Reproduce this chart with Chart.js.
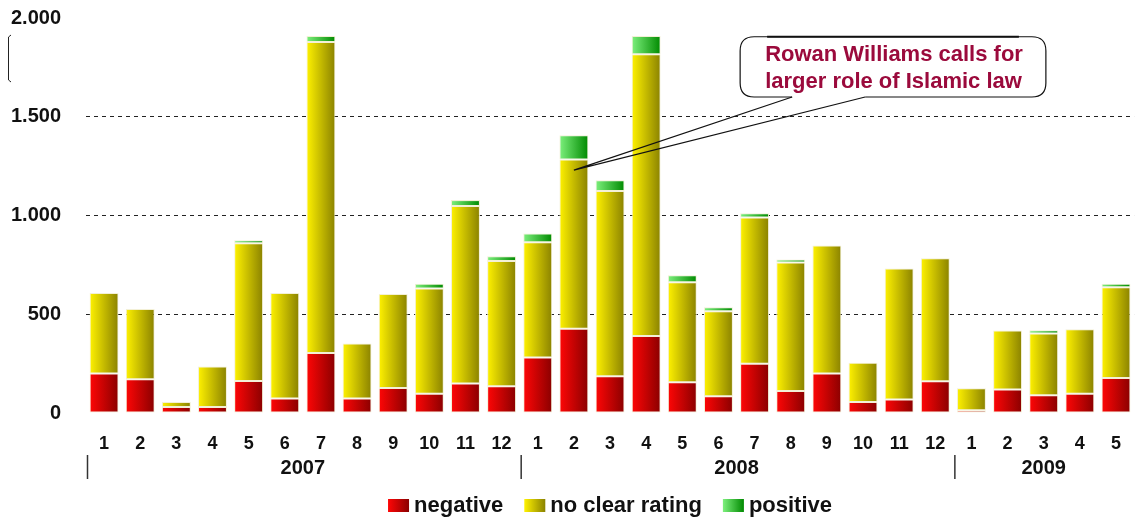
<!DOCTYPE html>
<html>
<head>
<meta charset="utf-8">
<script src="https://cdn.jsdelivr.net/npm/chart.js@4"></script>
<style>
    html, body { margin: 0; padding: 0; background: #fff; }
    #wrap { width: 1141px; height: 521px; }
</style>
</head>
<body>
<div id="wrap"><canvas id="chart"></canvas></div>
<script>
// months along the x axis, grouped by year
var monthLabels = ['1', '2', '3', '4', '5', '6', '7', '8', '9', '10', '11', '12',
    '1', '2', '3', '4', '5', '6', '7', '8', '9', '10', '11', '12',
    '1', '2', '3', '4', '5'];
var years = ['2007', '2008', '2009'];
var yearSpans = [12, 12, 5];

var negative = [200, 171, 30, 30, 162, 73, 304, 73, 127, 98, 149, 135,
    281, 426, 186, 390, 156, 85, 250, 112, 200, 56, 68, 161,
    14, 119, 90, 98, 177];
var noClearRating = [408, 356, 26, 205, 697, 535, 1575, 279, 475, 532, 899, 635,
    584, 858, 938, 1426, 506, 430, 740, 650, 648, 199, 664, 623,
    111, 299, 312, 326, 460];
var positive = [0, 0, 0, 0, 16, 0, 30, 0, 0, 24, 30, 24,
    44, 122, 55, 93, 36, 21, 21, 15, 0, 0, 0, 0,
    0, 0, 17, 0, 17];

var yTicks = [0, 500, 1000, 1500, 2000];

var annotationText = ['Rowan Williams calls for', 'larger role of Islamic law'];

var FONT = "'Liberation Sans', Arial, sans-serif";

// left = light, right = dark, like the shaded columns
var shades = {
    red: ['#ff0606', '#8a0000'],
    yellow: ['#fff200', '#8a8200'],
    green: ['#7df07d', '#008a00']
};

function barGradient(stops) {
    return function (context) {
        var chart = context.chart;
        var x = chart.scales.x;
        if (context.type !== 'data' || !x || !chart.chartArea) return stops[1];
        var center = x.getPixelForValue(context.dataIndex);
        var half = (x.width / monthLabels.length) * 0.4;
        var g = chart.ctx.createLinearGradient(center - half, 0, center + half, 0);
        g.addColorStop(0, stops[0]);
        g.addColorStop(1, stops[1]);
        return g;
    };
}

function formatThousands(v) {
    return String(v).replace(/\B(?=(\d{3})+(?!\d))/g, '.');
}

// year row, separators, legend, callout
var extras = {
    id: 'extras',
    afterDraw: function (chart) {
        var ctx = chart.ctx;
        var x = chart.scales.x;
        var y = chart.scales.y;
        var area = chart.chartArea;
        var catW = x.width / monthLabels.length;

        ctx.save();

        // little bracket mark at the left edge
        ctx.strokeStyle = '#222';
        ctx.lineWidth = 1;
        ctx.beginPath();
        ctx.moveTo(11, 35);
        ctx.lineTo(8.5, 37);
        ctx.lineTo(8.5, 80);
        ctx.lineTo(11, 82);
        ctx.stroke();

        // years
        ctx.font = 'bold 20px ' + FONT;
        ctx.fillStyle = '#111';
        ctx.textAlign = 'center';
        ctx.textBaseline = 'middle';
        var start = 0;
        years.forEach(function (yr, i) {
            var left = x.getPixelForValue(start) - catW / 2;
            var right = x.getPixelForValue(start + yearSpans[i] - 1) + catW / 2;
            ctx.strokeStyle = '#333';
            ctx.lineWidth = 1.5;
            ctx.beginPath();
            ctx.moveTo(left + 1.5, 455);
            ctx.lineTo(left + 1.5, 479);
            ctx.stroke();
            ctx.fillText(yr, (left + right) / 2, 468);
            start += yearSpans[i];
        });

        // legend
        var items = [
            { text: 'negative', c: shades.red },
            { text: 'no clear rating', c: shades.yellow },
            { text: 'positive', c: shades.green }
        ];
        ctx.font = 'bold 22px ' + FONT;
        ctx.textAlign = 'left';
        var total = 0;
        items.forEach(function (it, i) {
            it.w = ctx.measureText(it.text).width;
            total += 21 + 5 + it.w + (i < items.length - 1 ? 21 : 0);
        });
        var lx = (area.left + area.right) / 2 - total / 2;
        items.forEach(function (it) {
            var g = ctx.createLinearGradient(lx, 0, lx + 21, 0);
            g.addColorStop(0, it.c[0]);
            g.addColorStop(1, it.c[1]);
            ctx.fillStyle = g;
            ctx.fillRect(lx, 499, 21, 13);
            ctx.fillStyle = '#111';
            ctx.fillText(it.text, lx + 26, 506);
            lx += 21 + 5 + it.w + 21;
        });

        // callout box
        var bl = x.getPixelForValue(17.6);
        var br = x.getPixelForValue(26.06);
        var bt = y.getPixelForValue(1905);
        var bb = y.getPixelForValue(1600);
        var tipX = x.getPixelForValue(13);
        var tipY = y.getPixelForValue(1230);
        var p1 = bl + 52;
        var p2 = bl + 125;
        var r = 14;
        ctx.fillStyle = '#fff';
        ctx.strokeStyle = '#111';
        ctx.lineWidth = 1.2;
        ctx.beginPath();
        ctx.moveTo(p2, bb);
        ctx.lineTo(br - r, bb);
        ctx.quadraticCurveTo(br, bb, br, bb - r);
        ctx.lineTo(br, bt + r);
        ctx.quadraticCurveTo(br, bt, br - r, bt);
        ctx.lineTo(bl + r, bt);
        ctx.quadraticCurveTo(bl, bt, bl, bt + r);
        ctx.lineTo(bl, bb - r);
        ctx.quadraticCurveTo(bl, bb, bl + r, bb);
        ctx.lineTo(p1, bb);
        ctx.fill();
        ctx.stroke();
        ctx.lineWidth = 2;
        ctx.beginPath();
        ctx.moveTo(bl + 27, bt);
        ctx.lineTo(br - 27, bt);
        ctx.stroke();

        // pointer
        ctx.lineWidth = 1.2;
        ctx.beginPath();
        ctx.moveTo(p1, bb);
        ctx.lineTo(tipX, tipY);
        ctx.lineTo(p2, bb);
        ctx.stroke();

        ctx.fillStyle = '#9b0a3c';
        ctx.font = 'bold 22px ' + FONT;
        ctx.textAlign = 'left';
        ctx.fillText(annotationText[0], bl + 25, bt + 18);
        ctx.fillText(annotationText[1], bl + 25, bt + 45);

        ctx.restore();
    }
};

var ctx = document.getElementById('chart');
var myChart = new Chart(ctx, {
    type: 'bar',
    data: {
        labels: monthLabels,
        datasets: [{
            label: 'negative',
            data: negative,
            backgroundColor: barGradient(shades.red),
        }, {
            label: 'no clear rating',
            data: noClearRating,
            backgroundColor: barGradient(shades.yellow),
        }, {
            label: 'positive',
            data: positive,
            backgroundColor: barGradient(shades.green),
        }]
    },
    plugins: [extras],
    options: {
        responsive: true,
        maintainAspectRatio: false,
        animation: false,
        datasets: {
            bar: {
                borderColor: '#f3f0d6',
                borderWidth: 1,
                borderSkipped: false,
                categoryPercentage: 1,
                barPercentage: 0.8,
            }
        },
        layout: {
            padding: { top: 18, right: -2, bottom: 0, left: 0 }
        },
        scales: {
            x: {
                stacked: true,
                grid: { display: false, drawTicks: false },
                border: { display: false },
                ticks: {
                    color: '#111',
                    font: { family: FONT, size: 18, weight: 'bold' },
                    padding: 20,
                    maxRotation: 0,
                    autoSkip: false,
                },
                afterFit: function (scale) { scale.height = 108; }
            },
            y: {
                stacked: true,
                min: yTicks[0],
                max: yTicks[yTicks.length - 1],
                afterBuildTicks: function (scale) {
                    scale.ticks = yTicks.map(function (v) { return { value: v }; });
                },
                grid: {
                    drawTicks: true,
                    tickLength: 25,
                    tickColor: 'rgba(0,0,0,0)',
                    lineWidth: 1,
                    color: function (c) {
                        var v = c.tick ? c.tick.value : 0;
                        return (v > 0 && v < 2000) ? '#222' : 'rgba(0,0,0,0)';
                    },
                    borderDash: [4, 4],
                },
                border: { display: false, dash: [4, 4] },
                ticks: {
                    color: '#111',
                    font: { family: FONT, size: 20, weight: 'bold' },
                    padding: 0,
                    callback: function (v) { return formatThousands(v); }
                },
                afterFit: function (scale) { scale.width = 86; }
            }
        },
        plugins: {
            legend: { display: false },
            tooltip: { enabled: false },
            title: { display: false }
        }
    }
});
</script>
</body>
</html>
